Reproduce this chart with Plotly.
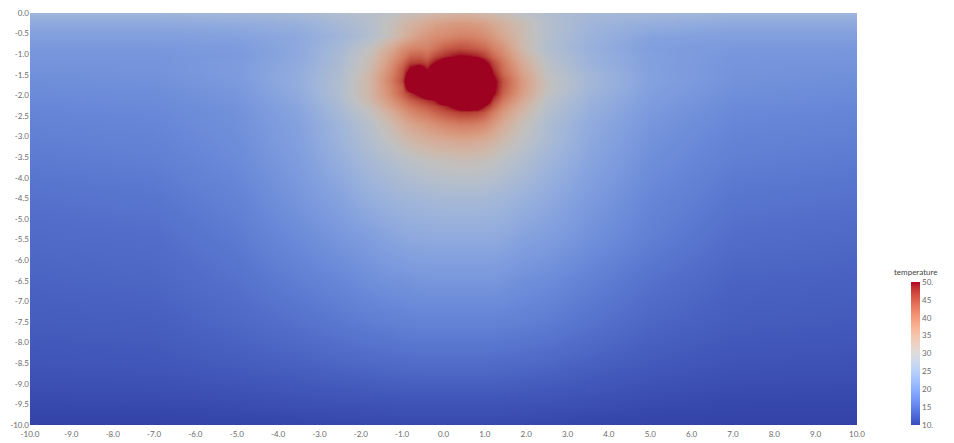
import plotly.graph_objects as go

# ---- data: temperature field (node estimates) ----
x_nodes = [-10, -7, -5, -3.5, -2.5, -1.8, -1.3, -1.0, -0.8, -0.6, -0.4, -0.2, 0.0, 0.2, 0.4, 0.6, 0.8,
           1.0, 1.2, 1.45, 1.9, 2.5, 3.5, 5, 7, 10]
y_nodes = [0, -0.25, -0.55, -0.85, -1.05, -1.2, -1.35, -1.5, -1.65, -1.8, -1.95, -2.1, -2.25, -2.4,
           -2.7, -3.1, -3.6, -4.5, -5.5, -6.5, -7.5, -8.5, -9.3, -10]

t_y0_00 = [25, 25, 25.5, 26, 27.5, 28.5, 29.5, 30.5, 31, 31.5, 32, 32.5, 33, 33, 33.5, 33.5, 33, 32.5, 32, 31, 29.5, 27.5, 26, 25.5, 25, 25]
t_y0_25 = [22.5, 22.5, 23, 24, 26, 28, 30.5, 32.5, 33.5, 34.5, 35.5, 36.5, 37, 37.5, 37.5, 37.5, 37, 36.5, 35.5, 34, 31.5, 28, 25, 23.5, 22.5, 22.5]
t_y0_55 = [20.8, 20.8, 21.3, 22.5, 25, 27.5, 31, 33.5, 35.5, 37, 38, 39, 39.5, 40, 40.5, 40.5, 40, 39, 37.5, 35.5, 32, 28, 24.5, 21.5, 20.8, 20.8]
t_y0_85 = [19.8, 19.8, 20.3, 22.5, 26, 30, 35, 38.5, 40, 40.5, 40.5, 42, 44, 45, 45.5, 45, 44, 43, 40.5, 38.5, 32.5, 27.5, 24, 20.8, 19.8, 19.8]
t_y1_05 = [19.4, 19.4, 20, 22.5, 26.5, 31, 37, 40.5, 43.5, 44, 43, 46, 48, 49.5, 50.5, 50, 49, 46.5, 43, 40, 34, 28.5, 24.5, 21, 19.5, 19.4]
t_y1_20 = [19.2, 19.3, 20.3, 22.8, 26.5, 31.5, 38, 42.5, 46.5, 47, 46, 50, 54, 60, 62, 60, 56, 51, 46, 41.5, 35, 29, 24.5, 21, 19.4, 19.2]
t_y1_35 = [19, 19.2, 20.3, 23, 27, 32, 39, 44.5, 51, 54, 49.5, 56, 65, 72, 75, 72, 66, 56, 48, 42.5, 36, 29.5, 25, 21, 19.2, 19]
t_y1_50 = [18.7, 19, 20.3, 23.2, 27, 33, 40, 45, 56, 65, 66, 72, 80, 85, 87, 85, 78, 65, 50, 43.5, 37, 30, 25.5, 21.2, 19.2, 18.7]
t_y1_65 = [18.5, 18.8, 20.1, 23.3, 27.5, 33, 40.5, 46, 60, 70, 72, 78, 85, 90, 92, 90, 85, 72, 52, 45, 37.5, 30.5, 25.5, 21.2, 19, 18.5]
t_y1_80 = [18.2, 18.6, 19.8, 23.2, 27.5, 33, 40, 44, 57, 66, 70, 76, 84, 88, 90, 88, 83, 70, 52, 44.5, 37.5, 30.5, 25.5, 21, 18.8, 18.2]
t_y1_95 = [18, 18.3, 19.6, 22.8, 27.5, 33, 39.5, 44, 48, 52, 60, 68, 76, 82, 84, 82, 78, 66, 51, 43.5, 37, 30, 25, 20.8, 18.6, 18]
t_y2_10 = [17.8, 18.1, 19.3, 22.5, 27, 32.5, 38, 41.5, 44, 46, 48, 50, 58, 66, 70, 70, 66, 57, 47, 41.5, 35.5, 29, 24.5, 20.5, 18.3, 17.8]
t_y2_25 = [17.5, 17.9, 19, 22, 26.5, 31, 36.5, 39.5, 41.5, 43, 44.5, 46, 48, 51, 55, 56, 55, 49, 44, 39.5, 34, 28.5, 24, 20.2, 18, 17.5]
t_y2_40 = [17.3, 17.7, 18.9, 21.7, 26, 30, 34.5, 37.5, 39.5, 41, 42, 43.5, 45, 46, 47, 47, 46.5, 44.5, 41, 37.5, 33, 28, 23.8, 20, 17.8, 17.3]
t_y2_70 = [17, 17.4, 18.7, 21.3, 25, 28.5, 32, 34.5, 36, 37, 38, 39, 40, 40.5, 41, 41, 40.5, 39.5, 37.5, 35, 31, 27, 23, 19.5, 17.5, 17]
t_y3_10 = [16.5, 17, 18.4, 21, 24.5, 27.5, 30, 31.5, 32.5, 33.5, 34, 34.5, 35, 35.3, 35.5, 35.5, 35, 34.5, 33.5, 32, 29.5, 26.5, 22.5, 19, 17, 16.5]
t_y3_60 = [16, 16.5, 18, 20.5, 23.5, 26, 27.5, 28.5, 29, 29.5, 30, 30.3, 30.5, 30.8, 31, 31, 30.8, 30.5, 30, 29, 27.5, 25, 21.8, 18.5, 16.5, 16]
t_y4_50 = [15, 15.5, 17, 19.5, 21.5, 23.5, 24.5, 25, 25.2, 25.4, 25.6, 25.8, 26, 26, 26, 26, 26, 25.8, 25.5, 25.2, 24.2, 22.8, 20.3, 17.5, 15.5, 15]
t_y5_50 = [14.2, 14.5, 16, 18, 19.5, 20.5, 21.5, 22, 22.2, 22.3, 22.4, 22.5, 22.5, 22.5, 22.5, 22.5, 22.5, 22.5, 22.5, 22.2, 21.2, 20.5, 18.8, 16.5, 14.5, 14]
t_y6_50 = [13.5, 13.8, 15, 16.5, 17.5, 18.5, 19, 19, 19.2, 19.4, 19.5, 19.5, 19.5, 19.5, 19.5, 19.5, 19.5, 19.5, 19.5, 19.2, 18.7, 18.2, 16.8, 15, 13.5, 13.2]
t_y7_50 = [12.8, 13, 14, 15, 15.8, 16.3, 16.6, 16.8, 16.9, 17, 17, 17, 17, 17, 17, 17, 17, 17, 17, 16.9, 16.6, 16.2, 15.2, 13.8, 12.8, 12.5]
t_y8_50 = [12, 12.2, 12.8, 13.3, 13.8, 14.1, 14.3, 14.4, 14.4, 14.5, 14.5, 14.5, 14.5, 14.5, 14.5, 14.5, 14.5, 14.5, 14.4, 14.3, 14.2, 13.9, 13.3, 12.5, 11.8, 11.6]
t_y9_30 = [11, 11.1, 11.4, 11.8, 12, 12.1, 12.2, 12.3, 12.3, 12.3, 12.3, 12.3, 12.3, 12.3, 12.3, 12.3, 12.3, 12.3, 12.3, 12.2, 12.1, 12, 11.7, 11.2, 10.8, 10.7]
t_y10_0 = [10, 10, 10.2, 10.4, 10.5, 10.6, 10.6, 10.7, 10.7, 10.7, 10.7, 10.7, 10.7, 10.7, 10.7, 10.7, 10.7, 10.7, 10.7, 10.6, 10.6, 10.5, 10.3, 10.1, 10, 10]

temperature = [t_y0_00, t_y0_25, t_y0_55, t_y0_85, t_y1_05, t_y1_20, t_y1_35, t_y1_50, t_y1_65,
               t_y1_80, t_y1_95, t_y2_10, t_y2_25, t_y2_40, t_y2_70, t_y3_10, t_y3_60, t_y4_50,
               t_y5_50, t_y6_50, t_y7_50, t_y8_50, t_y9_30, t_y10_0]

x_tick_vals = [-10, -9, -8, -7, -6, -5, -4, -3, -2, -1, 0, 1, 2, 3, 4, 5, 6, 7, 8, 9, 10]
x_tick_text = ["-10.0", "-9.0", "-8.0", "-7.0", "-6.0", "-5.0", "-4.0", "-3.0", "-2.0", "-1.0", "0.0",
               "1.0", "2.0", "3.0", "4.0", "5.0", "6.0", "7.0", "8.0", "9.0", "10.0"]
y_tick_vals = [0, -0.5, -1, -1.5, -2, -2.5, -3, -3.5, -4, -4.5, -5, -5.5, -6, -6.5, -7, -7.5, -8, -8.5,
               -9, -9.5, -10]
y_tick_text = ["0.0", "-0.5", "-1.0", "-1.5", "-2.0", "-2.5", "-3.0", "-3.5", "-4.0", "-4.5", "-5.0",
               "-5.5", "-6.0", "-6.5", "-7.0", "-7.5", "-8.0", "-8.5", "-9.0", "-9.5", "-10.0"]
cbar_tick_vals = [10, 15, 20, 25, 30, 35, 40, 45, 50]
cbar_tick_text = ["10.", "15", "20", "25", "30", "35", "40", "45", "50."]
cbar_title = "temperature"

# ---- ParaView "Cool to Warm" colour map ----
cool_warm = [
    (59, 76, 192), (68, 90, 204), (77, 104, 215), (87, 117, 225), (98, 130, 234), (108, 142, 241),
    (119, 154, 247), (130, 165, 251), (141, 176, 254), (152, 185, 255), (163, 194, 255), (174, 201, 253),
    (184, 208, 249), (194, 213, 244), (204, 217, 238), (213, 219, 230), (221, 221, 221), (229, 216, 209),
    (236, 211, 197), (241, 204, 185), (245, 196, 173), (247, 187, 160), (247, 177, 148), (247, 166, 135),
    (244, 154, 123), (241, 141, 111), (236, 127, 99), (229, 112, 88), (222, 96, 77), (213, 80, 66),
    (203, 62, 56), (192, 40, 47), (180, 4, 38)]
n = len(cool_warm) - 1
scale_bar = [[i / n, "rgb(%d,%d,%d)" % c] for i, c in enumerate(cool_warm)]
shade = 0.87
scale_lit = [[i / n, "rgb(%d,%d,%d)" % tuple(round(v * shade) for v in c)] for i, c in enumerate(cool_warm)]

font_family = "Lato, 'DejaVu Sans', sans-serif"
tick_font = dict(family=font_family, size=8, color="#6a6a6a")

fig = go.Figure()
fig.add_trace(go.Heatmap(
    x=x_nodes, y=y_nodes, z=temperature,
    colorscale=scale_lit, zmin=10, zmax=50, zsmooth="best",
    showscale=False, hoverinfo="skip"))

fig.add_trace(go.Scatter(
    x=[None], y=[None], mode="markers", hoverinfo="skip", showlegend=False,
    marker=dict(color=[10], colorscale=scale_bar, cmin=10, cmax=50, showscale=True,
                colorbar=dict(
                    xref="paper", yref="paper",
                    x=(911 - 30) / 827, xanchor="left", y=0, yanchor="bottom",
                    len=143, lenmode="pixels", thickness=9, xpad=0, ypad=0,
                    outlinewidth=0, ticks="", tickvals=cbar_tick_vals, ticktext=cbar_tick_text,
                    tickfont=tick_font,
                ))))

fig.add_annotation(text=cbar_title, xref="paper", yref="paper",
                   x=(915.5 - 30) / 827, y=(425 - 272) / 412, xanchor="center", yanchor="middle",
                   showarrow=False, font=dict(family=font_family, size=8, color="#444"))

fig.update_xaxes(range=[-10, 10], tickvals=x_tick_vals, ticktext=x_tick_text, showgrid=False,
                 zeroline=False, showline=False, ticks="", tickfont=tick_font, automargin=False,
                 ticklabelstandoff=3)
fig.update_yaxes(range=[-10, 0], tickvals=y_tick_vals, ticktext=y_tick_text, showgrid=False,
                 zeroline=False, showline=False, ticks="", tickfont=tick_font, automargin=False)

fig.update_layout(
    width=954, height=443,
    margin=dict(l=30, r=97, t=13, b=18, autoexpand=False),
    paper_bgcolor="white", plot_bgcolor="white",
    showlegend=False,
)

fig.write_html("out.html", config={"displayModeBar": False},
               post_script="document.body.style.margin='0';")
